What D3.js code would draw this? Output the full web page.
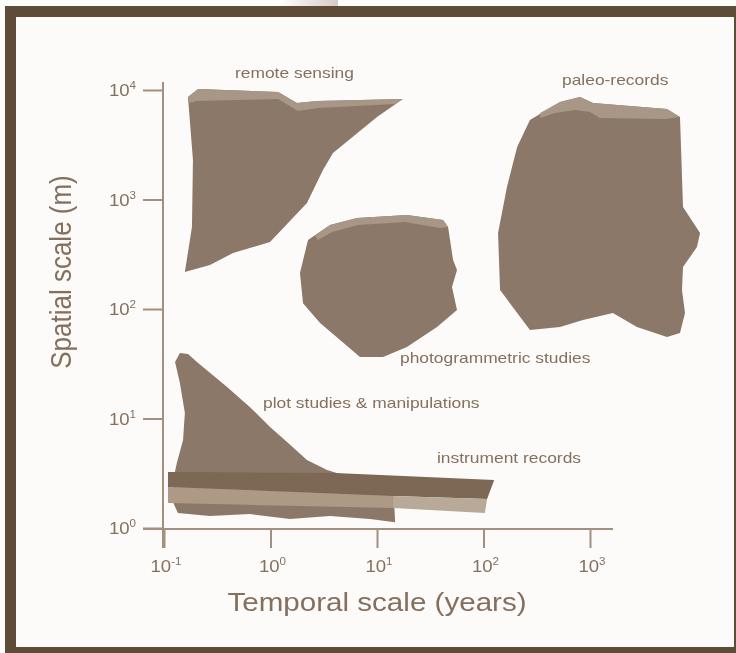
<!DOCTYPE html>
<html>
<head>
<meta charset="utf-8">
<script src="https://cdn.jsdelivr.net/npm/d3@7"></script>
<style>
  body { margin: 0; background: #fdfdfc; }
  svg { display: block; font-family: "Liberation Sans", Arial, sans-serif; }
</style>
</head>
<body>
<svg id="chart" width="736" height="653"></svg>
<script>
// tick values (log decades)
const xTicks = [0.1, 1, 10, 100, 1000];
const xExps = ["-1", "0", "1", "2", "3"];
const yTicks = [1, 10, 100, 1000, 10000];
const yExps = ["0", "1", "2", "3", "4"];

// region outlines, [temporal scale (years), spatial scale (m)]
const remoteSensing = [[0.168,8630],[0.209,10200],[1.18,9590],[1.77,7610],[2.74,7940],[17.5,8280],[10.0,5670],[3.86,2660],[3.11,1860],[2.20,929],[0.99,409],[0.445,325],[0.270,252],[0.157,218],[0.183,561],[0.187,2290]];
const remoteTop = [[0.168,8630],[0.209,10200],[1.18,9590],[1.77,7610],[2.74,7940],[17.5,8280],[14.8,7450],[2.79,6850],[1.81,6430],[1.18,8280],[0.200,7940],[0.175,7610]];

const photogrammetric = [[2.25,427],[3.62,585],[6.49,678],[19.1,722],[41.7,650],[46.5,561],[51.8,280],[56.4,227],[50.6,159],[56.4,97.9],[36.6,68.5],[19.1,45.0],[11.4,36.5],[6.92,36.5],[4.50,52.1],[2.92,74.5],[2.02,113],[1.89,213]];
const photoTop = [[2.62,464],[3.62,585],[6.49,678],[19.1,722],[41.7,650],[46.5,561],[39.1,549],[18.3,623],[6.64,585],[3.78,505],[2.79,427]];

const paleoRecords = [[273,5320],[523,7770],[805,8630],[1070,7610],[5280,6700],[7000,5670],[7470,855],[10800,494],[10100,368],[7470,242],[7310,149],[7800,91.9],[7000,60.4],[5280,55.5],[2760,68.5],[1640,91.9],[859,79.4],[523,68.5],[273,64.3],[143,149],[137,494],[166,1300],[207,3020]];
const paleoTop = [[340,6170],[523,7770],[805,8630],[1070,7610],[5280,6700],[7000,5670],[5060,5430],[1240,5550],[1000,6300],[723,6570],[469,6170],[340,5550]];

const plotStudies = [[0.127,32.8],[0.141,39.6],[0.168,38.8],[0.204,32.8],[0.391,19.4],[0.643,12.7],[0.99,8.37],[1.43,6.10],[2.20,4.18],[3.40,3.39],[4.50,3.11],[14.1,2.86],[14.8,1.13],[8.59,1.21],[3.62,1.29],[1.52,1.21],[0.643,1.34],[0.270,1.29],[0.135,1.37],[0.119,1.80],[0.122,2.74],[0.132,3.92],[0.151,6.36],[0.157,11.2],[0.141,21.1]];

const instrumentTop = [[0.109,3.25],[4.04,3.18],[126,2.74],[108,1.84],[14.1,1.96],[0.109,2.37]];
const instrumentBarLeft = [[0.109,2.37],[14.1,1.96],[14.1,1.52],[0.109,1.69]];
const instrumentBarRight = [[14.1,1.96],[108,1.84],[103,1.37],[14.1,1.52]];

const regionNames = ["remote sensing", "paleo-records", "photogrammetric studies", "plot studies & manipulations", "instrument records"];

const svg = d3.select("#chart");
const stretch = 1.16; // the source picture is a bit wider than tall

const defs = svg.append("defs");
const grad = defs.append("linearGradient").attr("id", "topfade");
grad.append("stop").attr("offset", "0%").attr("stop-color", "#fdfdfc");
grad.append("stop").attr("offset", "100%").attr("stop-color", "#d6ccc4");
defs.append("filter").attr("id", "soft").append("feGaussianBlur").attr("stdDeviation", 0.7);
defs.append("filter").attr("id", "softText").append("feGaussianBlur").attr("stdDeviation", 0.35);

// frame
svg.append("rect").attr("x", 282).attr("y", 0).attr("width", 56).attr("height", 6).attr("fill", "url(#topfade)");
svg.append("rect").attr("x", 5).attr("y", 6).attr("width", 731).attr("height", 647).attr("fill", "#5f4c38");
svg.append("rect").attr("x", 16).attr("y", 17).attr("width", 718).attr("height", 630).attr("fill", "#fcfbf9");

const x = d3.scaleLog().domain([0.1, 1000]).range([164, 590]);
const y = d3.scaleLog().domain([1, 10000]).range([528, 90]);

const axisColor = "#a38f7e";
const textColor = "#856f5d";

// axes
const yAxis = svg.append("g").attr("transform", "translate(163,0)")
  .call(d3.axisLeft(y).tickValues(yTicks).tickSize(20).tickSizeOuter(0).tickFormat(""));
yAxis.select(".domain").remove();
yAxis.selectAll("line").attr("stroke", axisColor).attr("stroke-width", 2);

const xAxis = svg.append("g").attr("transform", "translate(0,529)")
  .call(d3.axisBottom(x).tickValues(xTicks).tickSize(19).tickSizeOuter(0).tickFormat(""));
xAxis.select(".domain").remove();
xAxis.selectAll("line").attr("stroke", axisColor).attr("stroke-width", 2);

svg.append("line").attr("x1", 163).attr("x2", 163).attr("y1", 82).attr("y2", 548)
  .attr("stroke", axisColor).attr("stroke-width", 2);
svg.append("line").attr("x1", 143).attr("x2", 613).attr("y1", 529).attr("y2", 529)
  .attr("stroke", axisColor).attr("stroke-width", 2);

const texts = svg.append("g").attr("filter", "url(#softText)");

function stretchedText(px, py, size, anchor, rot) {
  return texts.append("text")
    .attr("transform", `translate(${px},${py}) scale(${stretch},1)` + (rot ? ` rotate(${rot})` : ""))
    .attr("font-size", size).attr("text-anchor", anchor).attr("fill", textColor);
}

function powerLabel(px, py, exp, anchor) {
  const t = stretchedText(px, py, 16, anchor);
  t.append("tspan").text("10");
  t.append("tspan").attr("font-size", 10).attr("dy", -7).text(exp);
}

yTicks.forEach((v, i) => powerLabel(136, y(v) + 6, yExps[i], "end"));
xTicks.forEach((v, i) => powerLabel(x(v) + 2, 572, xExps[i], "middle"));

stretchedText(377, 611, 25.5, "middle").text("Temporal scale (years)");
stretchedText(71, 272, 26, "middle", -90).text("Spatial scale (m)");

// regions
const line = d3.line().x(d => x(d[0])).y(d => y(d[1])).curve(d3.curveLinearClosed);
const shapes = svg.insert("g", "g").attr("filter", "url(#soft)");
const shade = { main: "#8c7867", top: "#a89787", dark: "#7c6855", barL: "#ad9986", barR: "#b8a999" };

[
  [remoteSensing, shade.main], [remoteTop, shade.top],
  [paleoRecords, shade.main], [paleoTop, shade.top],
  [photogrammetric, shade.main], [photoTop, shade.top],
  [plotStudies, shade.main],
  [instrumentTop, shade.dark], [instrumentBarLeft, shade.barL], [instrumentBarRight, shade.barR]
].forEach(([pts, col]) => {
  shapes.append("path").attr("d", line(pts)).attr("fill", col);
});

// region labels
const labelPos = [[235, 78], [562, 85], [400, 363], [263, 408], [437, 463]];
regionNames.forEach((name, i) => {
  stretchedText(labelPos[i][0], labelPos[i][1], 15, "start").text(name);
});
</script>
</body>
</html>
